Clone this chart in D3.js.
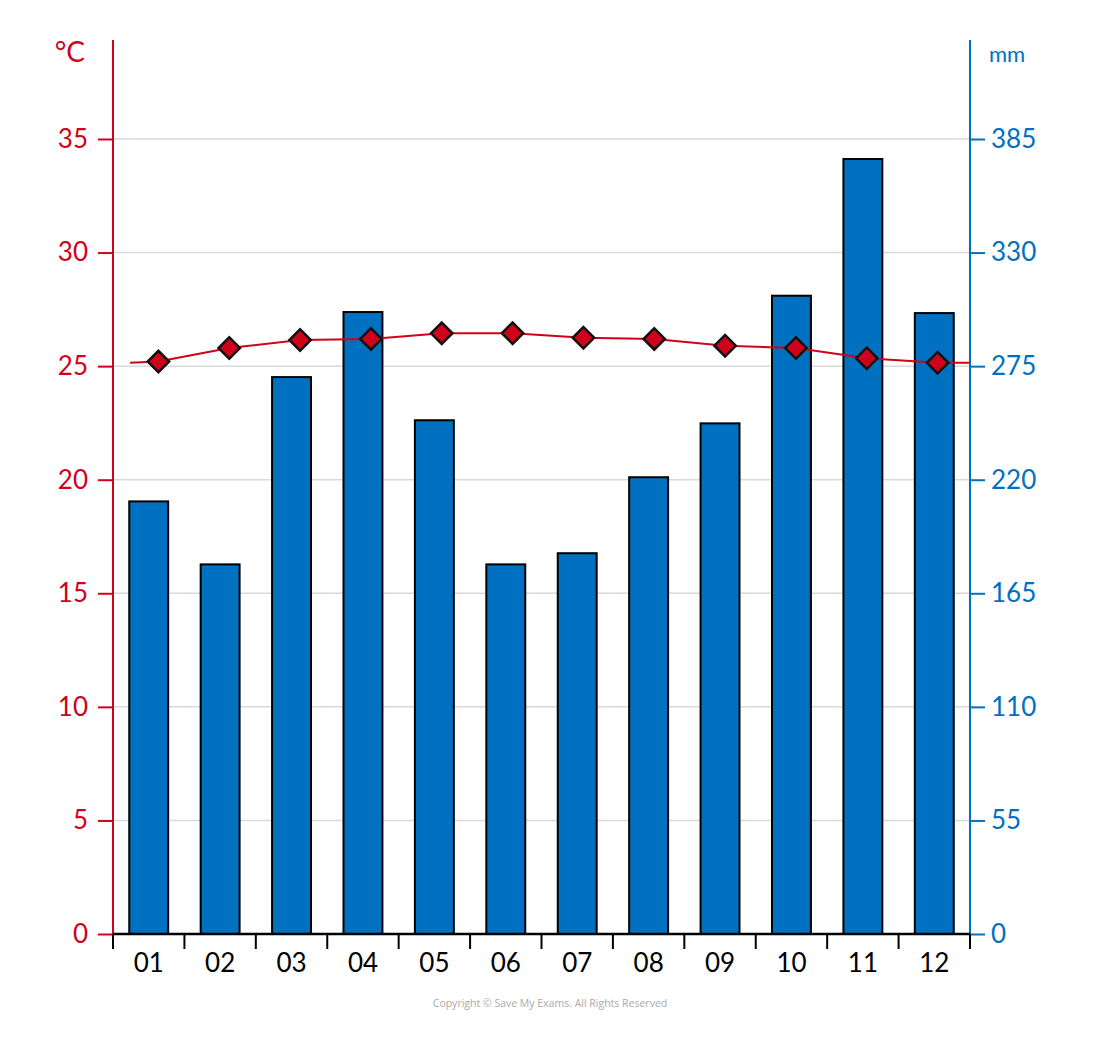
<!DOCTYPE html>
<html>
<head>
<meta charset="utf-8">
<script src="https://d3js.org/d3.v7.min.js"></script>
<style>
  body { margin: 0; background: #fff; }
  text { font-family: "Lato", "Liberation Sans", sans-serif; }
</style>
</head>
<body>
<div id="chart"></div>
<script>
// data
var months = ["01", "02", "03", "04", "05", "06", "07", "08", "09", "10", "11", "12"];
var rainfall = [209.5, 179, 269.7, 301.2, 248.8, 179, 184.4, 221.2, 247.3, 309.1, 375.3, 300.7];
var temperature = [25.2, 25.8, 26.15, 26.2, 26.45, 26.45, 26.25, 26.2, 25.9, 25.8, 25.35, 25.15];
// the line runs on a little past the first and last points
var lineStart = { m: 0.6, t: 25.15 };
var lineEnd = { m: 12.45, t: 25.15 };
var tempTicks = [0, 5, 10, 15, 20, 25, 30, 35];
var rainTicks = [0, 55, 110, 165, 220, 275, 330, 385];

var svgWidth = 1100;
var svgHeight = 1037;

var margin = { top: 40, right: 130, bottom: 103, left: 113 };
var width = svgWidth - margin.left - margin.right;
var height = svgHeight - margin.top - margin.bottom;

var red = "#d0021b";
var blue = "#0070c0";

var svg = d3.select("#chart")
  .append("svg")
  .attr("width", svgWidth)
  .attr("height", svgHeight);

var chartGroup = svg.append("g")
  .attr("transform", `translate(${margin.left}, ${margin.top})`);

// scales
var xBand = d3.scaleBand()
  .domain(months)
  .range([0, width]);

var xLine = d3.scaleLinear()
  .domain([0.5, 12.5])
  .range([10, width + 3]);

var yTemp = d3.scaleLinear()
  .domain([0, 35])
  .range([height, 99]);

var yRain = d3.scaleLinear()
  .domain([0, 385])
  .range([height, 99]);

// gridlines
chartGroup.append("g").selectAll("line")
  .data(tempTicks.slice(1))
  .enter()
  .append("line")
  .attr("x1", 0)
  .attr("x2", width)
  .attr("y1", d => yTemp(d))
  .attr("y2", d => yTemp(d))
  .attr("stroke", "#d9d9d9")
  .attr("stroke-width", 1.5);

// bars
var barWidth = xBand.bandwidth() * 0.545;
chartGroup.append("g").selectAll("rect")
  .data(rainfall)
  .enter()
  .append("rect")
  .attr("x", (d, i) => xBand(months[i]) + (xBand.bandwidth() - barWidth) / 2)
  .attr("y", d => yRain(d))
  .attr("width", barWidth)
  .attr("height", d => height - yRain(d))
  .attr("fill", blue)
  .attr("stroke", "#000")
  .attr("stroke-width", 2);

// temperature line
var linePoints = [lineStart].concat(
  temperature.map((t, i) => ({ m: i + 1, t: t })),
  [lineEnd]
);
var line = d3.line()
  .x(d => xLine(d.m))
  .y(d => yTemp(d.t));

chartGroup.append("path")
  .datum(linePoints)
  .attr("d", line)
  .attr("fill", "none")
  .attr("stroke", red)
  .attr("stroke-width", 2);

// diamond markers
chartGroup.append("g").selectAll("path")
  .data(temperature)
  .enter()
  .append("path")
  .attr("d", d3.symbol().type(d3.symbolSquare).size(230))
  .attr("transform", (d, i) => `translate(${xLine(i + 1)}, ${yTemp(d)}) rotate(45)`)
  .attr("fill", red)
  .attr("stroke", "#111")
  .attr("stroke-width", 2.5);

// left axis
var leftAxis = d3.axisLeft(yTemp)
  .tickValues(tempTicks)
  .tickSize(15)
  .tickPadding(10);

var leftG = chartGroup.append("g")
  .call(leftAxis);
leftG.select(".domain").remove();
leftG.selectAll("line").attr("stroke", red).attr("stroke-width", 2);
leftG.selectAll("text")
  .attr("fill", red)
  .style("font-size", "26px");

chartGroup.append("line")
  .attr("x1", 0).attr("x2", 0)
  .attr("y1", 0).attr("y2", height)
  .attr("stroke", red)
  .attr("stroke-width", 2);

// right axis
var rightAxis = d3.axisRight(yRain)
  .tickValues(rainTicks)
  .tickSize(15)
  .tickPadding(6);

var rightG = chartGroup.append("g")
  .attr("transform", `translate(${width}, 0)`)
  .call(rightAxis);
rightG.select(".domain").remove();
rightG.selectAll("line").attr("stroke", blue).attr("stroke-width", 2);
rightG.selectAll("text")
  .attr("fill", blue)
  .style("font-size", "26px");

chartGroup.append("line")
  .attr("x1", width).attr("x2", width)
  .attr("y1", 0).attr("y2", height)
  .attr("stroke", blue)
  .attr("stroke-width", 2);

// bottom axis: labels at band centres, ticks at band edges
var bottomAxis = d3.axisBottom(xBand)
  .tickSize(0)
  .tickPadding(20);

var bottomG = chartGroup.append("g")
  .attr("transform", `translate(0, ${height})`)
  .call(bottomAxis);
bottomG.select(".domain").remove();
bottomG.selectAll("text")
  .attr("fill", "#000")
  .style("font-size", "26px");

var edges = months.map(m => xBand(m)).concat([width]);
chartGroup.append("g").selectAll("line")
  .data(edges)
  .enter()
  .append("line")
  .attr("x1", d => d)
  .attr("x2", d => d)
  .attr("y1", height)
  .attr("y2", height + 15)
  .attr("stroke", "#000")
  .attr("stroke-width", 2);

chartGroup.append("line")
  .attr("x1", 0).attr("x2", width)
  .attr("y1", height).attr("y2", height)
  .attr("stroke", "#000")
  .attr("stroke-width", 2.5);

// unit labels
svg.append("text")
  .attr("x", 85)
  .attr("y", 62)
  .attr("text-anchor", "end")
  .attr("fill", red)
  .style("font-size", "28px")
  .text("°C");

svg.append("text")
  .attr("x", 989)
  .attr("y", 62)
  .attr("fill", blue)
  .style("font-size", "22px")
  .text("mm");

// copyright
svg.append("text")
  .attr("x", 550)
  .attr("y", 1007)
  .attr("text-anchor", "middle")
  .attr("fill", "#aaa")
  .style("font-size", "10.5px")
  .style("font-family", "'Open Sans', sans-serif")
  .text("Copyright © Save My Exams. All Rights Reserved");
</script>
</body>
</html>
